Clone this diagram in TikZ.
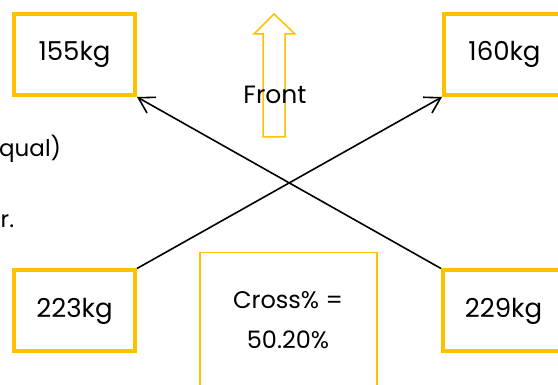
\documentclass[tikz,border=0pt]{standalone}
\usepackage{fontspec}
\setmainfont{Poppins}
\usetikzlibrary{arrows.meta}
\definecolor{gold}{HTML}{FFC000}
\begin{document}
\begin{tikzpicture}[x=1pt,y=-1pt,
  wbox/.style={draw=gold, line width=4pt, minimum width=121pt, minimum height=81pt, inner sep=0pt, font=\fontsize{26}{30}\selectfont},
  link/.style={line width=1.6pt, -{Straight Barb[length=15pt,width=18pt,line width=1.6pt]}},
  lbl/.style={font=\fontsize{23}{27}\selectfont, inner sep=0pt}]
\useasboundingbox (0,0) rectangle (558,385);
\clip (0,0) rectangle (558,385);
\node[wbox] (b155) at (74.5,54.5) {155kg};
\node[wbox] (b160) at (504.5,54.5) {160kg};
\node[wbox] (b223) at (74.5,311) {223kg};
\node[wbox] (b229) at (503.5,311) {229kg};
\draw[gold, line width=1.5pt] (274,14) -- (295,34) -- (285,34) -- (285,137) -- (263,137) -- (263,34) -- (254,34) -- cycle;
\node[lbl, font=\fontsize{25}{29}\selectfont] (front) at (275,95) {Front};
\node[draw=gold, line width=1.5pt, minimum width=177pt, minimum height=170pt, anchor=north, inner sep=0pt] (cross) at (288.5,252) {};
\node[lbl, align=center, font=\fontsize{24}{40}\selectfont] (crosstxt) at (288,320) {Cross\% =\\50.20\%};
\node[lbl, anchor=base west] (qual) at (-1,157) {qual)};
\node[lbl, anchor=base west] (rdot) at (0.5,228) {r.};
\draw[link] (b223.north east) -- (b160.south west);
\draw[link] (b229.north west) -- (b155.south east);
\end{tikzpicture}
\end{document}
